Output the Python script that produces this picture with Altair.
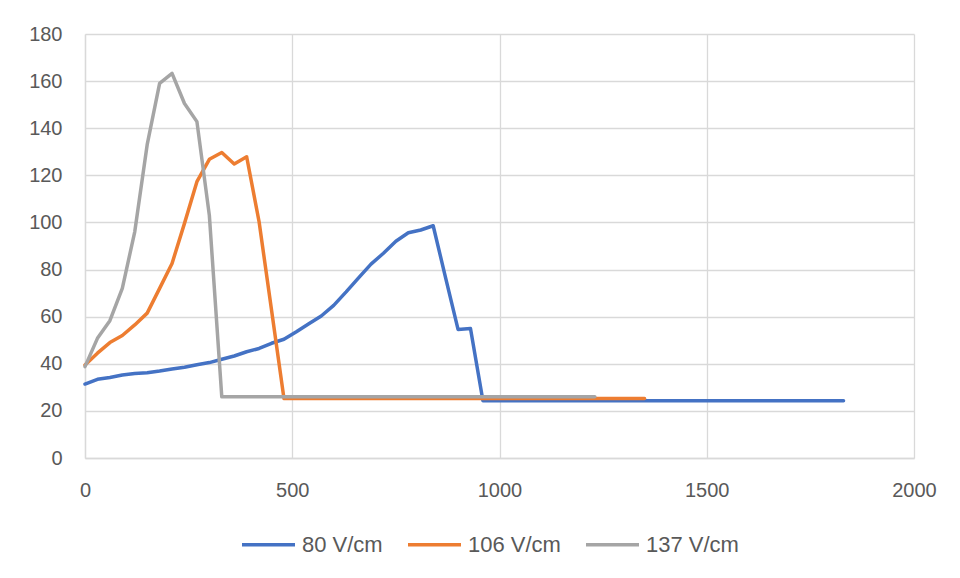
import altair as alt
import pandas as pd

# ---- data ----
series_names = ["80 V/cm", "106 V/cm", "137 V/cm"]
series_colors = ["#4472C4", "#ED7D31", "#A5A5A5"]

x_80 = [0, 30, 60, 90, 120, 150, 180, 210, 240, 270, 300, 330, 360, 390, 420, 450,
        480, 510, 540, 570, 600, 630, 660, 690, 720, 750, 780, 810, 840, 870, 900,
        930, 960, 1830]
y_80 = [31.4, 33.4, 34.2, 35.2, 35.9, 36.2, 36.9, 37.8, 38.5, 39.6, 40.5, 41.9, 43.3,
        45.1, 46.5, 48.7, 50.4, 53.6, 57.0, 60.3, 64.8, 70.5, 76.5, 82.3, 86.9, 92.0,
        95.6, 96.8, 98.6, 76.5, 54.6, 55.0, 24.3, 24.3]

x_106 = [0, 30, 60, 90, 120, 150, 180, 210, 240, 270, 300, 330, 360, 390, 420, 450,
         480, 1350]
y_106 = [39.5, 44.5, 49.0, 52.0, 56.5, 61.5, 72.0, 82.6, 99.6, 117.3, 126.8, 129.7,
         124.8, 127.9, 100.3, 62.8, 25.3, 25.3]

x_137 = [0, 30, 60, 90, 120, 150, 180, 210, 240, 270, 300, 330, 1230]
y_137 = [38.8, 50.8, 58.3, 72.0, 96.0, 133.0, 159.0, 163.3, 150.5, 142.8, 103.0,
         26.0, 26.0]

x_ticks = [0, 500, 1000, 1500, 2000]
y_ticks = [0, 20, 40, 60, 80, 100, 120, 140, 160, 180]

def frame(name, xs, ys):
    return pd.DataFrame({"x": xs, "y": ys, "series": name, "idx": range(len(xs))})

dfs = [frame(series_names[0], x_80, y_80),
       frame(series_names[1], x_106, y_106),
       frame(series_names[2], x_137, y_137)]

FONT = "Liberation Sans"
TXT = "#595959"
GRID = "#d9d9d9"

color = alt.Color(
    "series:N",
    scale=alt.Scale(domain=series_names, range=series_colors),
    legend=alt.Legend(
        title=None,
        orient="none",
        legendX=155,
        legendY=482,
        direction="horizontal",
        symbolType="stroke",
        symbolSize=2809,
        symbolStrokeWidth=3.5,
        labelFontSize=22,
        labelFont=FONT,
        labelColor=TXT,
        labelOffset=5,
        columnPadding=18,
    ),
)

x_enc = alt.X(
    "x:Q",
    scale=alt.Scale(domain=[0, 2000], nice=False, zero=False),
    axis=alt.Axis(values=x_ticks, format="d", title=None, grid=True, gridColor=GRID,
                  ticks=False, domainColor=GRID, domainWidth=1.3,
                  labelFontSize=20, labelFont=FONT, labelColor=TXT,
                  labelPadding=22, labelFlush=False),
)
y_enc = alt.Y(
    "y:Q",
    scale=alt.Scale(domain=[0, 180], nice=False),
    axis=alt.Axis(values=y_ticks, format="d", title=None, grid=True, gridColor=GRID,
                  ticks=False, domainColor=GRID, domainWidth=1.3,
                  labelFontSize=20, labelFont=FONT, labelColor=TXT,
                  labelPadding=23),
)

layers = []
for df in dfs:
    layers.append(
        alt.Chart(df).mark_line(strokeWidth=3.5, strokeCap="round", strokeJoin="round")
        .encode(x=x_enc, y=y_enc, color=color, order="idx:Q")
    )

chart = alt.layer(*layers).properties(
    width=829,
    height=424,
    autosize=alt.AutoSizeParams(type="none"),
    padding={"left": 77, "top": 26, "right": 30, "bottom": 110},
).configure_view(stroke=None).configure_axis(gridWidth=1.3)

chart.save("out.html", embed_options={"renderer": "svg", "actions": False})
